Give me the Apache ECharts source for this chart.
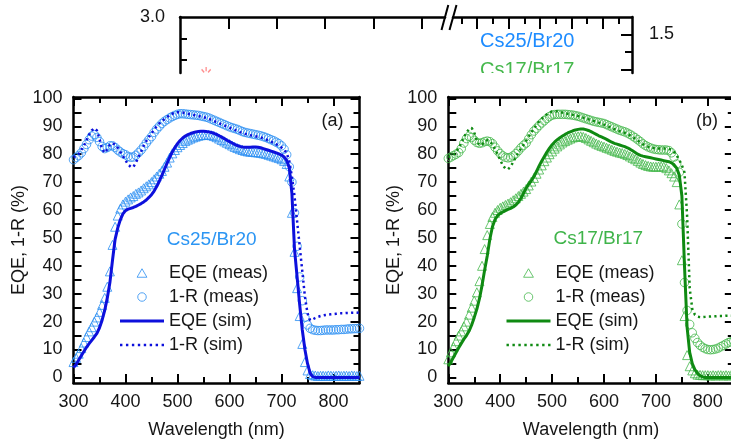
<!DOCTYPE html>
<html>
<head>
<meta charset="utf-8">
<script src="https://cdn.jsdelivr.net/npm/echarts@6/dist/echarts.min.js"></script>
<style>
  html, body { margin: 0; padding: 0; background: #fff; }
  #chart { width: 731px; height: 442px; }
</style>
</head>
<body>
<div id="chart"></div>
<script>
// Wavelength grid (nm) shared by measured and simulated spectra
const wavelength = [
  300,305,310,315,320,325,330,335,340,345,350,355,360,365,370,375,380,385,390,395,
  400,405,410,415,420,425,430,435,440,445,450,455,460,465,470,475,480,485,490,495,
  500,505,510,515,520,525,530,535,540,545,550,555,560,565,570,575,580,585,590,595,
  600,605,610,615,620,625,630,635,640,645,650,655,660,665,670,675,680,685,690,695,
  700,705,710,715,720,725,730,735,740,745,750,755,760,765,770,775,780,785,790,795,
  800,805,810,815,820,825,830,835,840,845,850
];

// Panel (a): Cs25/Br20
const eqeMeasA = [
  5.5,7.0,8.5,10.5,12.5,14.5,16.5,18.0,20.0,21.5,
  23.5,26.0,28.5,32.5,38.0,47.5,54.0,58.0,60.5,62.0,
  63.0,63.8,64.5,65.0,65.8,66.3,67.0,67.8,68.5,69.2,
  70.0,71.0,72.0,73.0,74.0,75.5,77.0,78.8,80.3,81.5,
  82.5,83.3,84.0,84.7,85.2,85.6,86.0,86.3,86.6,86.8,
  86.9,87.0,87.0,86.8,86.5,86.1,85.6,85.1,84.6,84.1,
  83.6,83.1,82.6,82.2,81.8,81.5,81.2,81.0,80.9,80.8,
  80.7,80.6,80.5,80.3,80.1,79.8,79.5,79.2,78.9,78.6,
  78.2,77.6,76.5,72.0,59.0,45.0,32.0,22.0,12.0,5.5,
  2.5,1.2,0.8,0.7,0.5,0.6,0.6,0.5,0.7,0.6,
  0.5,0.6,0.7,0.5,0.6,0.6,0.5,0.7,0.6,0.5,0.6
];
const reflMeasA = [
  78.0,78.8,79.5,80.5,82.0,83.5,85.2,86.5,87.0,86.0,
  84.5,82.8,82.0,82.4,83.0,83.0,82.4,81.5,80.8,80.2,
  79.8,79.2,78.9,79.0,79.6,80.5,81.5,82.7,84.0,85.2,
  86.3,87.8,89.0,90.0,91.0,91.8,92.4,93.0,93.5,93.9,
  94.3,94.5,94.5,94.4,94.3,94.2,94.1,94.0,93.9,93.7,
  93.5,93.3,93.0,92.6,92.2,91.8,91.4,91.0,90.6,90.2,
  89.8,89.5,89.2,88.9,88.5,88.1,87.8,87.6,87.4,87.2,
  87.0,86.8,86.6,86.3,86.0,85.6,85.2,84.8,84.3,83.8,
  83.0,81.8,79.8,75.5,70.0,59.0,47.0,36.0,27.5,21.5,
  18.8,17.6,17.1,16.9,16.8,16.8,16.9,17.0,17.0,17.0,
  17.0,17.1,17.1,17.2,17.2,17.3,17.4,17.4,17.5,17.5,17.6
];
const eqeSimA = [
  3.5,4.6,6.2,7.8,9.3,10.8,12.1,13.3,14.5,15.8,
  17.8,20.5,24.0,28.5,34.0,42.0,49.5,53.5,56.5,58.6,
  59.8,60.3,60.6,60.9,61.3,61.8,62.3,62.9,63.6,64.5,
  65.5,66.8,68.4,70.3,72.4,74.6,76.8,78.9,80.8,82.4,
  83.8,84.9,85.8,86.5,87.0,87.4,87.7,88.0,88.1,88.2,
  88.2,88.1,88.0,87.8,87.5,87.1,86.6,86.1,85.6,85.0,
  84.5,84.0,83.5,83.1,82.8,82.6,82.5,82.5,82.5,82.6,
  82.6,82.5,82.3,82.0,81.7,81.4,81.1,80.8,80.5,80.1,
  79.7,79.0,77.8,75.0,66.0,46.0,36.0,26.0,17.0,10.0,
  5.0,1.5,0.3,0,0,0,0,0,0,0,
  0,0,0,0,0,0,0,0,0,0,0
];
const reflSimA = [
  79.0,79.3,80.0,81.5,83.0,85.0,87.0,88.5,89.3,88.5,
  85.5,81.8,80.5,81.8,83.3,84.0,83.5,82.3,80.8,79.3,
  77.8,76.3,75.5,75.4,77.0,79.0,81.0,83.0,84.7,86.2,
  87.5,88.8,90.0,91.0,91.8,92.6,93.3,94.0,94.5,94.9,
  95.0,95.0,94.9,94.7,94.5,94.3,94.1,93.9,93.7,93.5,
  93.3,93.0,92.7,92.3,91.9,91.5,91.1,90.7,90.3,89.9,
  89.5,89.1,88.7,88.3,87.9,87.6,87.3,87.0,86.8,86.6,
  86.4,86.2,86.0,85.7,85.3,84.9,84.5,84.0,83.5,83.0,
  82.4,81.6,80.4,77.5,72.0,65.0,56.0,47.0,38.0,29.0,
  23.0,20.5,20.8,21.3,21.7,22.0,22.2,22.4,22.5,22.6,
  22.7,22.8,22.9,23.0,23.0,23.1,23.1,23.2,23.2,23.2,23.3
];

// Panel (b): Cs17/Br17
const eqeMeasB = [
  6.5,9.0,11.0,13.0,15.0,16.5,18.3,20.0,22.5,25.0,
  27.5,30.5,34.5,40.0,46.0,51.0,55.0,57.5,59.0,60.0,
  60.8,61.3,61.8,62.3,62.8,63.5,64.2,65.0,65.8,66.6,
  67.5,68.8,70.2,71.5,73.0,74.5,76.0,77.5,78.8,80.0,
  81.0,82.0,82.8,83.5,84.2,84.7,85.2,85.6,86.0,86.2,
  86.4,86.4,86.2,85.8,85.3,84.8,84.3,83.8,83.4,83.0,
  82.7,82.3,82.0,81.6,81.2,80.9,80.6,80.4,80.1,79.7,
  79.2,78.7,78.2,77.6,77.0,76.5,76.1,75.8,75.6,75.5,
  75.5,75.6,75.6,75.5,75.0,74.2,73.2,72.0,70.0,62.0,
  42.0,22.0,8.0,4.0,2.5,1.5,1.0,0.9,0.8,0.8,
  0.8,0.7,0.8,0.7,0.8,0.8,0.7,0.8,0.7,0.8,0.8
];
const reflMeasB = [
  78.5,79.0,79.5,80.0,80.6,82.0,84.0,85.6,86.4,86.0,
  85.0,84.2,83.9,84.1,84.5,84.7,84.5,83.8,82.5,81.2,
  80.2,79.4,78.9,78.7,78.9,79.4,80.2,81.2,82.3,83.2,
  84.0,85.5,87.0,88.3,89.3,90.3,91.2,92.0,92.8,93.5,
  94.0,94.2,94.3,94.3,94.3,94.3,94.2,94.1,94.0,93.8,
  93.6,93.3,93.0,92.7,92.4,92.1,91.8,91.6,91.4,91.2,
  91.0,90.6,90.2,89.8,89.4,89.0,88.6,88.3,88.0,87.6,
  87.1,86.5,85.9,85.2,84.5,83.7,83.1,82.6,82.2,81.9,
  81.7,81.6,81.5,81.5,81.5,81.3,80.5,79.0,76.5,73.5,
  55.0,34.0,24.0,19.0,16.0,14.0,12.5,11.5,10.8,10.3,
  10.0,9.9,10.0,10.2,10.5,11.0,11.5,12.0,12.5,12.8,13.0
];
const eqeSimB = [
  4.0,5.5,7.2,8.9,10.6,12.2,13.7,15.0,16.6,18.8,
  21.5,24.5,28.2,33.0,38.5,43.5,49.5,54.0,56.6,58.0,
  58.8,59.3,59.8,60.2,60.6,61.1,61.8,62.8,64.2,66.0,
  67.8,69.3,70.5,72.0,73.8,75.8,77.6,79.2,80.8,82.2,
  83.4,84.4,85.2,85.9,86.5,87.1,87.6,88.0,88.4,88.7,
  88.9,89.0,89.0,88.8,88.5,88.1,87.6,87.1,86.6,86.2,
  85.8,85.3,84.8,84.3,83.9,83.6,83.3,83.0,82.7,82.3,
  81.8,81.2,80.6,80.0,79.6,79.3,79.1,78.9,78.7,78.5,
  78.3,78.1,77.9,77.7,77.5,77.3,76.9,76.2,75.0,72.5,
  65.0,40.0,18.0,9.0,5.0,2.8,1.5,0.6,0.2,0,
  0,0,0,0,0,0,0,0,0,0,0
];
const reflSimB = [
  79.0,79.2,79.8,80.8,82.2,84.0,86.0,87.8,89.0,89.4,
  87.8,84.8,83.2,83.5,84.5,85.0,84.6,83.5,81.8,80.0,
  78.0,76.0,74.9,74.6,75.5,77.2,79.0,80.6,82.0,83.4,
  84.8,86.3,87.8,89.2,90.5,91.7,92.7,93.6,94.3,94.9,
  95.3,95.4,95.3,95.1,94.9,94.7,94.5,94.3,94.1,93.9,
  93.7,93.4,93.1,92.8,92.5,92.2,91.9,91.6,91.3,91.0,
  90.6,90.2,89.8,89.4,89.0,88.6,88.3,88.0,87.7,87.3,
  86.8,86.2,85.6,84.9,84.2,83.6,83.1,82.7,82.4,82.2,
  82.1,82.0,82.0,82.0,82.0,81.9,81.6,80.8,79.5,78.0,
  76.0,73.5,58.0,32.0,24.5,22.5,21.8,21.6,21.6,21.7,
  21.8,21.8,21.9,21.9,22.0,22.0,22.0,22.1,22.1,22.1,22.2
];

// Tick values
const xMajorTicks = [300, 400, 500, 600, 700, 800];
const xMinorTicks = [350, 450, 550, 650, 750];
const yMajorTicks = [0, 10, 20, 30, 40, 50, 60, 70, 80, 90, 100];
const yMinorTicks = [5, 15, 25, 35, 45, 55, 65, 75, 85, 95];
const yAllTicks = [0,5,10,15,20,25,30,35,40,45,50,55,60,65,70,75,80,85,90,95,100];

// Partial upper axes frame (split top axis)
const stripLeftTicks = [1, 2, 3, 4, 5];
const stripRightShortTicks = [0, 2, 4, 6, 8, 10];
const stripRightLongTicks = [1, 3, 5, 7, 9];
const stripLeftYLabels = [3.0];
const stripLeftYTicks = [2.5, 2.745];
const stripRightYLabels = [1.5];
const stripRightYLongTicks = [1.5, 1.3];
const stripRightYShortTicks = [1.4];
const stripMark = [[0.54, 2.385]];

const legendNames = ['EQE (meas)', '1-R (meas)', 'EQE (sim)', '1-R (sim)'];

const FONT = '"Liberation Sans", Arial, Helvetica, sans-serif';
const TXT = '#161616';
const AX = '#000';

// Legend glyphs: hollow triangle, solid bar, dotted bar (44 px wide)
const ICON_TRIANGLE = 'path://M5,0L10,8.66L0,8.66Z';
const ICON_SOLID = 'path://M0,0h44v3h-44z';
const ICON_DOTTED = 'path://M0,0h2.4v2.5h-2.4zM5.94,0h2.4v2.5h-2.4zM11.88,0h2.4v2.5h-2.4zM17.82,0h2.4v2.5h-2.4z' +
  'M23.76,0h2.4v2.5h-2.4zM29.7,0h2.4v2.5h-2.4zM35.64,0h2.4v2.5h-2.4zM41.6,0h2.4v2.5h-2.4z';

const pair = (vals) => wavelength.map((w, i) => [w, vals[i]]);

const panels = [
  { key: 'a', left: 73.5, width: 286, light: '#2a8ff2', dark: '#0d10dc', tag: 'Cs25/Br20', tagColor: '#2b95f3',
    eqeMeas: eqeMeasA, reflMeas: reflMeasA, eqeSim: eqeSimA, reflSim: reflSimA },
  { key: 'b', left: 448.3, width: 285.5, light: '#45b84c', dark: '#0f8a12', tag: 'Cs17/Br17', tagColor: '#3fb44a',
    eqeMeas: eqeMeasB, reflMeas: reflMeasB, eqeSim: eqeSimB, reflSim: reflSimB }
];

const grid = [];
const xAxis = [];
const yAxis = [];
const series = [];
const legend = [];

panels.forEach((p, gi) => {
  grid.push({ left: p.left, top: 97, width: p.width, height: 286, outerBoundsMode: 'none', containLabel: false });
  const xBase = { type: 'value', gridIndex: gi, min: 300, max: 850, splitLine: { show: false } };
  const xi = xAxis.length;
  xAxis.push(Object.assign({}, xBase, {
    position: 'bottom',
    axisLine: { show: true, onZero: false, lineStyle: { color: AX, width: 2.5 } },
    axisTick: { show: true, inside: true, length: 9, customValues: xMajorTicks, lineStyle: { color: AX, width: 2 } },
    axisLabel: { show: true, customValues: xMajorTicks, margin: 10, fontSize: 18, color: TXT, fontFamily: FONT },
    name: 'Wavelength (nm)', nameLocation: 'middle', nameGap: 38,
    nameTextStyle: { fontSize: 18, color: TXT, fontFamily: FONT }
  }));
  xAxis.push(Object.assign({}, xBase, {
    position: 'bottom',
    axisLine: { show: false, onZero: false },
    axisTick: { show: true, inside: true, length: 6, customValues: xMinorTicks, lineStyle: { color: AX, width: 2 } },
    axisLabel: { show: false }
  }));
  xAxis.push(Object.assign({}, xBase, {
    position: 'top',
    axisLine: { show: true, onZero: false, lineStyle: { color: AX, width: 2.5 } },
    axisTick: { show: true, inside: true, length: 9, customValues: xMajorTicks, lineStyle: { color: AX, width: 2 } },
    axisLabel: { show: false }
  }));
  xAxis.push(Object.assign({}, xBase, {
    position: 'top',
    axisLine: { show: false, onZero: false },
    axisTick: { show: true, inside: true, length: 6, customValues: xMinorTicks, lineStyle: { color: AX, width: 2 } },
    axisLabel: { show: false }
  }));

  const yBase = { type: 'value', gridIndex: gi, min: -2, max: 100.5, splitLine: { show: false } };
  const yi = yAxis.length;
  yAxis.push(Object.assign({}, yBase, {
    position: 'left',
    axisLine: { show: true, onZero: false, lineStyle: { color: AX, width: 2.5 } },
    axisTick: { show: true, inside: true, length: 8, customValues: yAllTicks, lineStyle: { color: AX, width: 2 } },
    axisLabel: { show: true, customValues: yMajorTicks, margin: 11, fontSize: 18, color: TXT, fontFamily: FONT },
    name: 'EQE, 1-R (%)', nameLocation: 'middle', nameGap: 45, nameRotate: 90,
    nameTextStyle: { fontSize: 18, color: TXT, fontFamily: FONT }
  }));
  yAxis.push(Object.assign({}, yBase, {
    position: 'right',
    axisLine: { show: true, onZero: false, lineStyle: { color: AX, width: 2.5 } },
    axisTick: { show: true, inside: true, length: 9, customValues: yMajorTicks, lineStyle: { color: AX, width: 2 } },
    axisLabel: { show: false }
  }));
  yAxis.push(Object.assign({}, yBase, {
    position: 'right',
    axisLine: { show: false, onZero: false },
    axisTick: { show: true, inside: true, length: 6, customValues: yMinorTicks, lineStyle: { color: AX, width: 2 } },
    axisLabel: { show: false }
  }));

  const n = (s) => p.key + '|' + s;
  const hollow = { color: 'rgba(0,0,0,0)', borderColor: p.light, borderWidth: 1 };
  series.push({
    type: 'scatter', name: n(legendNames[0]), xAxisIndex: xi, yAxisIndex: yi,
    symbol: 'triangle', symbolSize: 9, clip: true,
    itemStyle: hollow, data: pair(p.eqeMeas), z: 2
  });
  series.push({
    type: 'scatter', name: n(legendNames[1]), xAxisIndex: xi, yAxisIndex: yi,
    symbol: 'circle', symbolSize: 8.5, clip: true,
    itemStyle: hollow, data: pair(p.reflMeas), z: 2
  });
  series.push({
    type: 'line', name: n(legendNames[2]), xAxisIndex: xi, yAxisIndex: yi,
    symbol: 'none', showSymbol: false, clip: true, smooth: false,
    lineStyle: { color: p.dark, width: 3 }, itemStyle: { color: p.dark },
    data: pair(p.eqeSim), z: 3
  });
  series.push({
    type: 'line', name: n(legendNames[3]), xAxisIndex: xi, yAxisIndex: yi,
    symbol: 'none', showSymbol: false, clip: true, smooth: false,
    lineStyle: { color: p.dark, width: 2.5, type: [2.2, 3.3] }, itemStyle: { color: p.dark },
    data: pair(p.reflSim), z: 3
  });

  legend.push({
    data: [
      { name: n(legendNames[0]), icon: ICON_TRIANGLE, itemStyle: hollow },
      { name: n(legendNames[1]), icon: 'circle', itemStyle: hollow },
      { name: n(legendNames[2]), icon: ICON_SOLID, itemStyle: { color: p.dark, borderWidth: 0 } },
      { name: n(legendNames[3]), icon: ICON_DOTTED, itemStyle: { color: p.dark, borderWidth: 0 } }
    ],
    orient: 'vertical',
    left: gi === 0 ? 120 : 506.5,
    top: 264,
    padding: 0,
    itemWidth: 44,
    itemHeight: 8.5,
    itemGap: 6,
    symbolKeepAspect: true,
    selectedMode: false,
    formatter: (name) => name.split('|')[1],
    textStyle: { fontSize: 18, color: TXT, fontFamily: FONT }
  });
});

// Upper strip: left part (before the axis break) and right part (after it)
grid.push({ left: 180, top: 17, width: 265, height: 56, outerBoundsMode: 'none', containLabel: false });
grid.push({ left: 453, top: 17, width: 179, height: 56, outerBoundsMode: 'none', containLabel: false });

const sxL = xAxis.length;
xAxis.push({
  type: 'value', gridIndex: 2, position: 'top', min: 0, max: 265 / 48.4,
  splitLine: { show: false },
  axisLine: { show: true, onZero: false, lineStyle: { color: AX, width: 2.5 } },
  axisTick: { show: true, inside: true, length: 12, customValues: stripLeftTicks, lineStyle: { color: AX, width: 2 } },
  axisLabel: { show: false }
});
xAxis.push({
  type: 'value', gridIndex: 3, position: 'top', min: -0.54, max: -0.54 + 179 / 15.7,
  splitLine: { show: false },
  axisLine: { show: true, onZero: false, lineStyle: { color: AX, width: 2.5 } },
  axisTick: { show: true, inside: true, length: 7, customValues: stripRightShortTicks, lineStyle: { color: AX, width: 2 } },
  axisLabel: { show: false }
});
xAxis.push({
  type: 'value', gridIndex: 3, position: 'top', min: -0.54, max: -0.54 + 179 / 15.7,
  splitLine: { show: false },
  axisLine: { show: false, onZero: false },
  axisTick: { show: true, inside: true, length: 12, customValues: stripRightLongTicks, lineStyle: { color: AX, width: 2 } },
  axisLabel: { show: false }
});

const syL = yAxis.length;
yAxis.push({
  type: 'value', gridIndex: 2, position: 'left', min: 2.349, max: 3.0,
  splitLine: { show: false },
  axisLine: { show: true, onZero: false, lineStyle: { color: AX, width: 2.5 } },
  axisTick: { show: true, inside: true, length: 7, customValues: stripLeftYTicks, lineStyle: { color: AX, width: 2 } },
  axisLabel: { show: true, customValues: stripLeftYLabels, margin: 15, fontSize: 18, color: TXT, fontFamily: FONT,
    formatter: (v) => v.toFixed(1) }
});
yAxis.push({
  type: 'value', gridIndex: 3, position: 'right', min: 1.28, max: 1.6,
  splitLine: { show: false },
  axisLine: { show: true, onZero: false, lineStyle: { color: AX, width: 2.5 } },
  axisTick: { show: true, inside: true, length: 11, customValues: stripRightYLongTicks, lineStyle: { color: AX, width: 2 } },
  axisLabel: { show: true, customValues: stripRightYLabels, margin: 17, fontSize: 18, color: TXT, fontFamily: FONT,
    formatter: (v) => v.toFixed(1) }
});
yAxis.push({
  type: 'value', gridIndex: 3, position: 'right', min: 1.28, max: 1.6,
  splitLine: { show: false },
  axisLine: { show: false, onZero: false },
  axisTick: { show: true, inside: true, length: 7, customValues: stripRightYShortTicks, lineStyle: { color: AX, width: 2 } },
  axisLabel: { show: false }
});

series.push({
  type: 'scatter', name: 'mark', xAxisIndex: sxL, yAxisIndex: syL, clip: true,
  symbol: 'path://M4.4,0h1.2v3.2h-1.2zM0.4,2.2l0.8,-0.8l2.4,2.2l-0.8,0.8zM9.6,2.2l-0.8,-0.8l-2.4,2.2l0.8,0.8z',
  symbolSize: [10, 6],
  itemStyle: { color: '#ff7a7a', opacity: 0.85 },
  data: stripMark, silent: true
});

const txt = (text, x, y, color, size, align) => ({
  type: 'text', x: x, y: y, z: 50, silent: true,
  style: { text: text, fill: color, fontSize: size, fontFamily: FONT,
    align: align || 'center', verticalAlign: 'middle',
    textAlign: align || 'center', textVerticalAlign: 'middle' }
});

const graphic = [
  txt('(a)', 332.5, 121, TXT, 18),
  txt('(b)', 707, 121, TXT, 18),
  txt('Cs25/Br20', 211.7, 240, '#2b95f3', 19),
  txt('Cs17/Br17', 598.3, 239, '#3fb44a', 19),
  txt('Cs25/Br20', 480, 41.7, '#1e8cff', 20, 'left'),
  txt('Cs17/Br17', 480, 70.5, '#45b84c', 20, 'left'),
  { type: 'rect', z: 60, silent: true, shape: { x: 470, y: 73, width: 130, height: 12 }, style: { fill: '#fff' } },
  { type: 'line', z: 60, silent: true, shape: { x1: 441.5, y1: 30, x2: 448.3, y2: 5 }, style: { stroke: AX, lineWidth: 2 } },
  { type: 'line', z: 60, silent: true, shape: { x1: 449.5, y1: 30, x2: 456.5, y2: 5 }, style: { stroke: AX, lineWidth: 2 } }
];

const chart = echarts.init(document.getElementById('chart'), null, { renderer: 'canvas' });
chart.setOption({
  animation: false,
  backgroundColor: '#fff',
  textStyle: { fontFamily: FONT },
  grid: grid,
  xAxis: xAxis,
  yAxis: yAxis,
  legend: legend,
  series: series,
  graphic: graphic
});
</script>
</body>
</html>
